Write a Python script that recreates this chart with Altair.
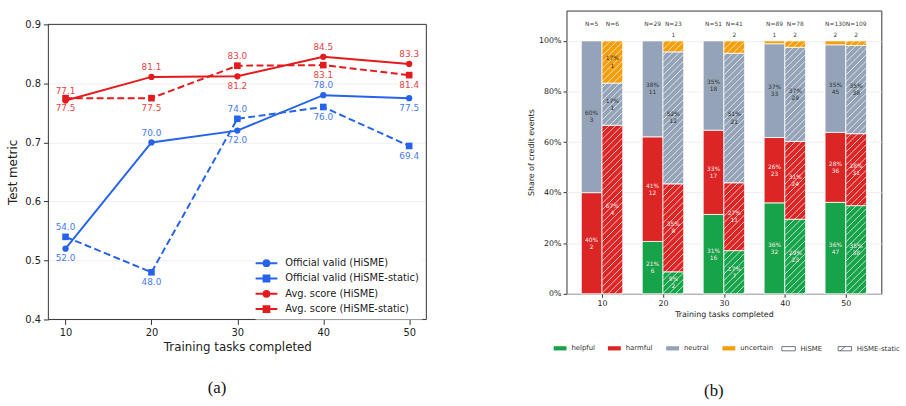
import altair as alt
import numpy as np
import pandas as pd

# ---------------- left panel: test metric vs. training tasks ----------------
tasks = [10, 20, 30, 40, 50]

official_hisme = [0.520, 0.700, 0.720, 0.780, 0.775]
official_static = [0.540, 0.480, 0.740, 0.760, 0.694]
avg_hisme = [0.771, 0.811, 0.812, 0.845, 0.833]
avg_static = [0.775, 0.775, 0.830, 0.831, 0.814]

# side of the marker for each value label (1 = above, -1 = below)
side_official_hisme = [-1, 1, -1, 1, -1]
side_official_static = [1, -1, 1, -1, -1]
side_avg_hisme = [1, 1, -1, 1, 1]
side_avg_static = [-1, -1, 1, -1, -1]

series_names = [
    "Official valid (HiSME)",
    "Official valid (HiSME-static)",
    "Avg. score (HiSME)",
    "Avg. score (HiSME-static)",
]

# ---------------- right panel: credit events per outcome ----------------
categories = ["helpful", "harmful", "neutral", "uncertain"]
variants = ["HiSME", "HiSME-static"]

hisme_helpful = [0, 6, 16, 32, 47]
hisme_harmful = [2, 12, 17, 23, 36]
hisme_neutral = [3, 11, 18, 33, 45]
hisme_uncertain = [0, 0, 0, 1, 2]

static_helpful = [0, 2, 7, 23, 38]
static_harmful = [4, 8, 11, 24, 31]
static_neutral = [1, 12, 21, 29, 38]
static_uncertain = [1, 1, 2, 2, 2]

BLUE = "#2563eb"
RED = "#e41a1c"
FRAME = "#333333"
cat_colors = ["#16a34a", "#dc2626", "#94a3b8", "#f59e0b"]
FONT = "DejaVu Sans"

# ============================ left chart ============================
# the plot area reaches 14 px above the framed 0.4-0.9 range
W1, H1 = 383, 313
Y_LO, Y_HI = 0.4, 0.9
Y_TOP = Y_HI + 14 * (Y_HI - Y_LO) / (H1 - 14)

x_left = alt.X(
    "tasks:Q",
    scale=alt.Scale(domain=[8, 52], nice=False, zero=False),
    axis=alt.Axis(values=tasks, format="d", title="Training tasks completed",
                  grid=False, labelFontSize=10, titleFontSize=12, tickSize=5,
                  labelPadding=3, titlePadding=4),
)
y_left = alt.Y(
    "value:Q",
    scale=alt.Scale(domain=[Y_LO, Y_TOP], nice=False, zero=False),
    axis=alt.Axis(values=[0.4, 0.5, 0.6, 0.7, 0.8, 0.9], format=".1f",
                  title="Test metric", labelFontSize=10, titleFontSize=12,
                  tickSize=5, labelPadding=3, titlePadding=5, titleY=14 + (H1 - 14) / 2),
)

frame = alt.Chart(pd.DataFrame({"tasks": [8], "value": [Y_LO]})).mark_rect(
    fillOpacity=0, stroke=FRAME, strokeWidth=1
).encode(x=alt.X("tasks:Q", scale=alt.Scale(domain=[8, 52], nice=False, zero=False)),
         x2=alt.datum(52),
         y=alt.Y("value:Q", scale=alt.Scale(domain=[Y_LO, Y_TOP], nice=False, zero=False)),
         y2=alt.datum(Y_HI))

specs = [
    (series_names[0], official_hisme, side_official_hisme, BLUE, None, "circle", 40),
    (series_names[1], official_static, side_official_static, BLUE, [7, 3.5], "square", 45),
    (series_names[2], avg_hisme, side_avg_hisme, RED, None, "circle", 40),
    (series_names[3], avg_static, side_avg_static, RED, [7, 3.5], "square", 45),
]

left_layers = []
for name, vals, sides, color, dash, shape, size in specs:
    df = pd.DataFrame({"tasks": tasks, "value": vals, "side": sides, "series": name})
    base = alt.Chart(df)
    line_kw = dict(color=color, strokeWidth=2)
    if dash is not None:
        line_kw["strokeDash"] = dash
    left_layers.append(base.mark_line(**line_kw).encode(x=x_left, y=y_left))
    left_layers.append(
        base.mark_point(filled=True, shape=shape, size=size, color=color, opacity=1)
        .encode(x=x_left, y=y_left)
    )
    for s, dy in [(1, -10), (-1, 10)]:
        left_layers.append(
            base.transform_filter(f"datum.side == {s}")
            .transform_calculate(pct="datum.value * 100")
            .mark_text(font=FONT, fontSize=9, color=color, opacity=0.85, dy=dy,
                       baseline="middle")
            .encode(x=x_left, y=y_left, text=alt.Text("pct:Q", format=".1f"))
        )

# legend: line + marker glyphs drawn from an invisible layer
line_circle = "M-1.57,0H1.57M-0.42,0A0.42,0.42,0,1,0,0.42,0A0.42,0.42,0,1,0,-0.42,0Z"
line_square = "M-1.57,0H1.57M-0.42,-0.42H0.42V0.42H-0.42Z"
series_colors = [BLUE, BLUE, RED, RED]
series_paths = [line_circle, line_square, line_circle, line_square]
legend_kw = dict(
    title=None, orient="none", legendX=210, legendY=245, symbolSize=196,
    symbolStrokeWidth=2, symbolOpacity=1, labelFontSize=10, labelFont=FONT,
    labelColor="#222", labelOffset=11, rowPadding=0.5, padding=3,
    fillColor="white",
)
legend_df = pd.DataFrame({"series": series_names})
left_legend = alt.Chart(legend_df).mark_point(filled=True, opacity=0).encode(
    x=alt.value(0),
    y=alt.value(0),
    color=alt.Color("series:N", scale=alt.Scale(domain=series_names, range=series_colors),
                    legend=alt.Legend(**legend_kw)),
    stroke=alt.Stroke("series:N", scale=alt.Scale(domain=series_names, range=series_colors),
                      legend=alt.Legend(**legend_kw)),
    shape=alt.Shape("series:N", scale=alt.Scale(domain=series_names, range=series_paths),
                    legend=alt.Legend(**legend_kw)),
)

left = alt.layer(frame, *left_layers, left_legend).properties(
    width=W1, height=H1,
    view=alt.ViewBackground(stroke="transparent"),
    title=alt.TitleParams("(a)", orient="bottom", font="Liberation Serif", fontSize=17,
                          fontWeight="normal", color="#111", offset=29, anchor="middle",
                          frame="bounds"),
)

# ============================ right chart ============================
W2, H2 = 319, 287
X_MIN, X_MAX = 4.17, 55.83
Y_MAX = 1.12
BAR_HALF = 3.4  # bar width in task units
kx = W2 / (X_MAX - X_MIN)
ky = H2 / Y_MAX

counts = {
    "HiSME": [hisme_helpful, hisme_harmful, hisme_neutral, hisme_uncertain],
    "HiSME-static": [static_helpful, static_harmful, static_neutral, static_uncertain],
}

rows = []
totals = []
for variant in variants:
    cols = counts[variant]
    for i, g in enumerate(tasks):
        n = sum(c[i] for c in cols)
        if variant == "HiSME":
            xa, xb = g - BAR_HALF, g
        else:
            xa, xb = g, g + BAR_HALF
        totals.append({"xm": (xa + xb) / 2, "nlabel": f"N={n}"})
        cum = 0.0
        for cat, c in zip(categories, cols):
            share = c[i] / n
            rows.append({
                "task": g, "variant": variant, "category": cat, "count": c[i],
                "share": share, "xa": xa, "xb": xb, "xm": (xa + xb) / 2,
                "ya": cum, "yb": cum + share, "ym": cum + share / 2,
                "pct_label": f"{round(share * 100)}%", "count_label": str(c[i]),
            })
            cum += share

bars_df = pd.DataFrame(rows)
bars_df = bars_df[bars_df["count"] > 0]
totals_df = pd.DataFrame(totals)

# diagonal hatching across the HiSME-static bars
HATCH_STEP = 6.5
hatch = []
for g in tasks:
    X0 = (g - X_MIN) * kx
    w = BAR_HALF * kx
    top = 1.0 * ky
    for c in np.arange(-w + 2.0, top, HATCH_STEP):
        xs, ys = X0 + max(0.0, -c), max(c, 0.0)
        xe, ye = X0 + min(w, top - c), min(c + w, top)
        if xe - xs < 0.3:
            continue
        hatch.append({"xa": X_MIN + xs / kx, "xb": X_MIN + xe / kx,
                      "ya": ys / ky, "yb": ye / ky})
hatch_df = pd.DataFrame(hatch)

x_scale_r = alt.Scale(domain=[X_MIN, X_MAX], nice=False, zero=False)
y_scale_r = alt.Scale(domain=[0, Y_MAX], nice=False, zero=True)
x_axis_r = alt.Axis(values=tasks, format="d", title="Training tasks completed", grid=False,
                    labelFontSize=8, titleFontSize=8, tickSize=3.5, labelPadding=2,
                    titlePadding=3)
y_axis_r = alt.Axis(values=[0, 0.2, 0.4, 0.6, 0.8, 1.0], format=".0%",
                    title="Share of credit events", labelFontSize=8, titleFontSize=8,
                    tickSize=3.5, labelPadding=2, titlePadding=3)


def xr(field):
    return alt.X(f"{field}:Q", scale=x_scale_r, axis=x_axis_r)


def yr(field):
    return alt.Y(f"{field}:Q", scale=y_scale_r, axis=y_axis_r)


# legend glyphs for the two variants, tucked underneath a bar
box_path = "M-1.05,-0.33H1.05V0.33H-1.05Z"
box_hatch_path = "M-1.05,-0.33H1.05V0.33H-1.05ZM-0.75,0.33L0.05,-0.33"
variant_df = pd.DataFrame({"variant": variants})
variant_legend = alt.Chart(variant_df).mark_point(
    filled=False, color="#4b5563", strokeWidth=0.8, size=100
).encode(
    x=alt.value(272), y=alt.value(262),
    shape=alt.Shape("variant:N", scale=alt.Scale(domain=variants, range=[box_path, box_hatch_path]),
                    legend=alt.Legend(title=None, orient="none", direction="horizontal",
                                      legendX=218, legendY=335.5, symbolSize=169,
                                      symbolStrokeColor="#4b5563",
                                      symbolStrokeWidth=0.8, symbolOpacity=1,
                                      labelFontSize=7, labelFont=FONT, labelColor="#333",
                                      labelOffset=5, columnPadding=13)),
)

bars = alt.Chart(bars_df).mark_rect(stroke="white", strokeWidth=0.8).encode(
    x=xr("xa"), x2="xb", y=yr("ya"), y2="yb",
    color=alt.Color("category:N", scale=alt.Scale(domain=categories, range=cat_colors),
                    legend=alt.Legend(title=None, orient="none", direction="horizontal",
                                      legendX=-13, legendY=335.5,
                                      symbolType="M-1,-0.33H1V0.33H-1Z", symbolSize=169,
                                      symbolStrokeWidth=0, labelFontSize=7, labelFont=FONT,
                                      labelColor="#333", labelOffset=5, columnPadding=13)),
)

hatch_layer = alt.Chart(hatch_df).mark_rule(color="white", strokeWidth=0.9, opacity=0.8).encode(
    x=xr("xa"), x2="xb", y=yr("ya"), y2="yb"
)

inside = bars_df[bars_df["share"] >= 0.08]
light_txt = inside[inside["category"].isin(["helpful", "harmful"])]
dark_txt = inside[~inside["category"].isin(["helpful", "harmful"])]

text_layers = []
for d, col in [(light_txt, "#fde8e8"), (dark_txt, "#333333")]:
    for field, dy in [("pct_label", -3.6), ("count_label", 3.6)]:
        text_layers.append(
            alt.Chart(d).mark_text(font=FONT, fontSize=6, color=col, dy=dy, baseline="middle")
            .encode(x=xr("xm"), y=yr("ym"), text=f"{field}:N")
        )

above_df = bars_df[(bars_df["category"] == "uncertain") & (bars_df["share"] < 0.08)]
above_layer = alt.Chart(above_df).mark_text(font=FONT, fontSize=6, color="#444",
                                            baseline="middle").encode(
    x=xr("xm"), y=alt.value(25), text="count_label:N"
)
n_layer = alt.Chart(totals_df).mark_text(font=FONT, fontSize=6, color="#444",
                                         baseline="middle").encode(
    x=xr("xm"), y=alt.value(14), text="nlabel:N"
)

right = alt.layer(variant_legend, bars, hatch_layer, *text_layers, above_layer, n_layer).properties(
    width=W2, height=H2,
    view=alt.ViewBackground(stroke=FRAME, strokeWidth=1),
    title=alt.TitleParams("(b)", orient="bottom", font="Liberation Serif", fontSize=17,
                          fontWeight="normal", color="#111", offset=31, anchor="middle",
                          frame="bounds"),
).resolve_scale(color="independent", shape="independent")

chart = (
    alt.hconcat(left, right, spacing=101)
    .properties(padding={"left": 6, "top": 6, "right": 5, "bottom": 5})
    .resolve_scale(color="independent", shape="independent", stroke="independent")
    .resolve_legend(color="independent", shape="independent", stroke="independent")
    .configure_axis(domain=False, gridColor="#ebebeb", gridWidth=0.8, tickColor=FRAME,
                    labelColor="#222222", titleColor="#222222", labelFont=FONT,
                    titleFont=FONT, titleFontWeight="normal")
)

chart.save("out.html", embed_options={"renderer": "svg", "actions": False})
